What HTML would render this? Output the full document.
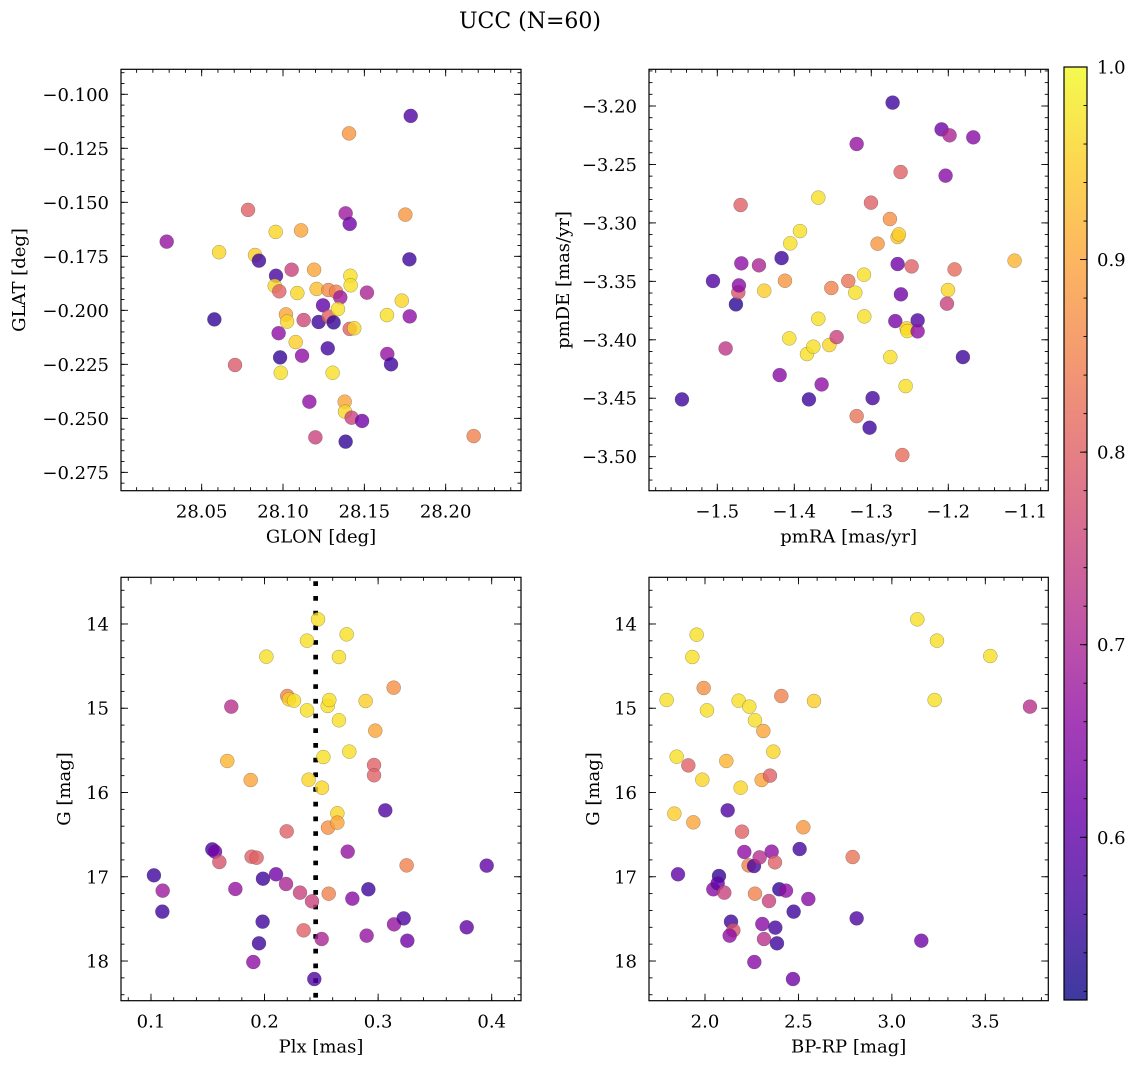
<!DOCTYPE html>
<html><head><meta charset="utf-8">
<style>
html,body{margin:0;padding:0;background:#fff;}
svg{display:block;font-family:"DejaVu Serif","Liberation Serif",serif;}
</style></head>
<body>
<svg id="chart" width="1136" height="1067" viewBox="0 0 1136 1067" xmlns="http://www.w3.org/2000/svg">
<text x="530" y="28" text-anchor="middle" font-size="22">UCC (N=60)</text>
</svg>
<script>
// ---------- data ----------
const glonValues = [28.0285,28.0578,28.0607,28.0705,28.0785,28.0828,28.0852,28.0955,28.0957,28.0949,28.0977,28.0973,28.0982,28.0986,28.1018,28.1025,28.1053,28.1088,28.1078,28.1111,28.1117,28.1127,28.1162,28.1191,28.1199,28.1207,28.1219,28.1246,28.1275,28.1279,28.1281,28.1311,28.1326,28.1352,28.1338,28.1305,28.1379,28.1381,28.1385,28.1385,28.1410,28.1406,28.1414,28.1416,28.1410,28.1438,28.1422,28.1486,28.1516,28.1639,28.1641,28.1664,28.1730,28.1752,28.1777,28.1779,28.1785,28.2172];
const glatValues = [-0.1682,-0.2042,-0.1731,-0.2253,-0.1535,-0.1744,-0.1770,-0.1637,-0.1840,-0.1887,-0.1912,-0.2106,-0.2218,-0.2289,-0.2019,-0.2052,-0.1812,-0.1920,-0.2147,-0.1630,-0.2210,-0.2045,-0.2423,-0.1812,-0.2588,-0.1901,-0.2054,-0.1977,-0.2176,-0.1906,-0.2029,-0.2056,-0.1914,-0.1940,-0.1994,-0.2289,-0.2423,-0.2469,-0.2608,-0.1551,-0.1600,-0.1181,-0.1840,-0.1884,-0.2086,-0.2083,-0.2497,-0.2512,-0.1918,-0.2022,-0.2202,-0.2250,-0.1955,-0.1557,-0.1764,-0.2028,-0.1100,-0.2582];
const probPos = [0.67,0.55,0.96,0.79,0.8,0.95,0.56,0.96,0.57,0.96,0.8,0.66,0.55,0.97,0.9,0.96,0.75,0.96,0.95,0.9,0.66,0.76,0.66,0.9,0.75,0.93,0.56,0.6,0.57,0.86,0.8,0.55,0.85,0.68,0.97,0.97,0.9,0.96,0.55,0.68,0.62,0.88,0.97,0.97,0.8,0.96,0.75,0.62,0.7,0.97,0.67,0.56,0.96,0.88,0.56,0.66,0.58,0.85];

const pmraValues = [-1.5459,-1.5056,-1.4892,-1.4758,-1.4727,-1.4719,-1.4697,-1.4688,-1.4459,-1.4390,-1.4190,-1.4165,-1.4121,-1.4065,-1.4052,-1.3926,-1.3835,-1.3810,-1.3753,-1.3688,-1.3688,-1.3645,-1.3545,-1.3450,-1.3519,-1.3299,-1.3208,-1.3190,-1.3190,-1.3095,-1.3091,-1.3022,-1.3004,-1.2983,-1.2918,-1.2758,-1.2753,-1.2723,-1.2688,-1.2658,-1.2641,-1.2658,-1.2619,-1.2615,-1.2597,-1.2554,-1.2541,-1.2532,-1.2476,-1.2398,-1.2398,-1.2087,-1.2035,-1.1983,-1.2004,-1.2017,-1.1918,-1.1810,-1.1675,-1.1139];
const pmdeValues = [-3.451,-3.3497,-3.4074,-3.3697,-3.3594,-3.3535,-3.2847,-3.3346,-3.3363,-3.3580,-3.4302,-3.3301,-3.3495,-3.3988,-3.3175,-3.3070,-3.4122,-3.4510,-3.4059,-3.2784,-3.3820,-3.4382,-3.4045,-3.3977,-3.3557,-3.3497,-3.3597,-3.4653,-3.2325,-3.3443,-3.3800,-3.4752,-3.2827,-3.4499,-3.3178,-3.2967,-3.4148,-3.1971,-3.3840,-3.3121,-3.3098,-3.3352,-3.2565,-3.3611,-3.4986,-3.4396,-3.3902,-3.3925,-3.3372,-3.3834,-3.3928,-3.2200,-3.2596,-3.2251,-3.3574,-3.3691,-3.3398,-3.4148,-3.2268,-3.3323];
const probPm = [0.56,0.58,0.73,0.54,0.78,0.65,0.8,0.66,0.7,0.95,0.65,0.56,0.88,0.97,0.97,0.97,0.97,0.56,0.97,0.97,0.97,0.66,0.96,0.75,0.85,0.83,0.97,0.83,0.67,0.97,0.97,0.56,0.8,0.57,0.88,0.87,0.97,0.56,0.63,0.94,0.95,0.62,0.8,0.62,0.82,0.97,0.95,0.97,0.8,0.58,0.66,0.62,0.65,0.7,0.96,0.75,0.82,0.56,0.65,0.92];

const plxValues = [0.1026,0.1103,0.1100,0.1540,0.1564,0.1602,0.1672,0.1707,0.1743,0.1878,0.1886,0.1930,0.1901,0.1951,0.1983,0.1986,0.2016,0.2101,0.2189,0.2195,0.2200,0.2215,0.2259,0.2312,0.2344,0.2374,0.2374,0.2388,0.2418,0.2438,0.2471,0.2506,0.2503,0.2518,0.2556,0.2570,0.2559,0.2565,0.2641,0.2641,0.2655,0.2655,0.2723,0.2732,0.2746,0.2773,0.2890,0.2899,0.2914,0.2964,0.2964,0.2975,0.3063,0.3137,0.3140,0.3225,0.3251,0.3257,0.3780,0.3956];
const gmagPlx = [16.983,17.165,17.414,16.675,16.702,16.825,15.626,14.981,17.145,15.852,16.762,16.774,18.012,17.790,17.533,17.023,14.388,16.971,17.086,16.461,14.855,14.894,14.910,17.189,17.636,14.198,15.025,15.848,17.292,18.214,13.945,15.943,17.739,15.579,14.973,14.902,16.417,17.201,16.247,16.358,15.143,14.392,14.123,16.702,15.515,17.260,14.914,17.699,17.149,15.674,15.796,15.266,16.212,14.756,17.565,17.494,16.865,17.759,17.600,16.868];
const probPlx = [0.56,0.68,0.56,0.57,0.62,0.78,0.92,0.72,0.67,0.9,0.8,0.8,0.66,0.56,0.56,0.56,0.97,0.62,0.7,0.8,0.85,0.95,0.97,0.75,0.8,0.97,0.97,0.96,0.75,0.58,0.97,0.96,0.7,0.97,0.97,0.97,0.87,0.85,0.96,0.9,0.97,0.97,0.97,0.67,0.97,0.65,0.95,0.67,0.56,0.8,0.8,0.9,0.58,0.87,0.67,0.58,0.85,0.62,0.6,0.6];
const plxReference = 0.245;

const bprpValues = [1.7949,1.8359,1.8484,1.8555,1.9108,1.9322,1.9376,1.9554,1.9857,1.9929,2.0107,2.0446,2.0749,2.0678,2.1034,2.1141,2.1213,2.1391,2.1516,2.1320,2.1801,2.1908,2.1980,2.2104,2.2372,2.2336,2.2622,2.2675,2.2925,2.2675,2.2640,2.3068,2.3157,2.3032,2.3121,2.3424,2.3478,2.3567,2.3656,2.3745,2.3763,2.3852,2.3977,2.4334,2.4084,2.4708,2.4744,2.5065,2.5261,2.5529,2.5832,2.7901,2.8115,3.1361,3.1575,3.2288,3.2413,3.5266,3.7389];
const gmagCmd = [14.902,16.251,15.575,16.971,15.678,14.392,16.354,14.127,15.848,14.760,15.025,17.149,16.991,17.078,17.189,15.626,16.212,17.533,17.636,17.699,14.910,15.943,16.465,16.706,14.981,16.865,16.873,15.143,16.770,17.201,18.012,17.561,17.739,15.852,15.270,17.288,15.800,16.702,15.515,16.829,17.604,17.790,17.149,17.165,14.855,18.214,17.414,16.671,16.413,17.264,14.914,16.766,17.494,13.945,17.759,14.902,14.198,14.380,14.981];
const probCmd = [0.97,0.95,0.97,0.6,0.8,0.97,0.9,0.97,0.96,0.87,0.97,0.65,0.55,0.6,0.75,0.92,0.58,0.56,0.78,0.66,0.97,0.96,0.8,0.66,0.97,0.85,0.57,0.97,0.72,0.85,0.65,0.65,0.72,0.9,0.9,0.75,0.8,0.66,0.96,0.8,0.57,0.56,0.55,0.66,0.85,0.62,0.56,0.57,0.88,0.65,0.95,0.83,0.58,0.97,0.62,0.97,0.97,0.97,0.72];

// tick labels
const glonTicks = [28.05,28.10,28.15,28.20];
const glatTicks = [-0.100,-0.125,-0.150,-0.175,-0.200,-0.225,-0.250,-0.275];
const pmraTicks = [-1.5,-1.4,-1.3,-1.2,-1.1];
const pmdeTicks = [-3.20,-3.25,-3.30,-3.35,-3.40,-3.45,-3.50];
const plxTicks = [0.1,0.2,0.3,0.4];
const gmagTicks = [14,15,16,17,18];
const bprpTicks = [2.0,2.5,3.0,3.5];
const cbarTicks = [0.6,0.7,0.8,0.9,1.0];
const cbarMin = 0.5155, cbarMax = 1.0;

// ---------- helpers ----------
const NS = 'http://www.w3.org/2000/svg';
const svg = document.getElementById('chart');
const FS = 18;
function mk(tag, attrs, parent){
  const e = document.createElementNS(NS, tag);
  for (const k in attrs) e.setAttribute(k, attrs[k]);
  (parent||svg).appendChild(e);
  return e;
}
const plasmaStops = ['#0d0887','#41049d','#6a00a8','#8f0da4','#b12a90','#cc4778','#e16462','#f2844b','#fca636','#fcce25','#f0f921'];
function hex(h){return [parseInt(h.substr(1,2),16),parseInt(h.substr(3,2),16),parseInt(h.substr(5,2),16)];}
function plasma(t){
  t = Math.max(0, Math.min(1, t));
  const f = t*10, i = Math.min(9, Math.floor(f)), r = f - i;
  const a = hex(plasmaStops[i]), b = hex(plasmaStops[i+1]);
  return 'rgb(' + a.map((v,k)=>Math.round(v+(b[k]-v)*r)).join(',') + ')';
}
function probColor(p){ return plasma((p - cbarMin)/(cbarMax - cbarMin)); }
function fmt(v, d){ const s = v.toFixed(d); return s.replace('-', '\u2212'); }
function linear(d0, d1, r0, r1){ return v => r0 + (v - d0)/(d1 - d0)*(r1 - r0); }

function panel(cfg){
  const g = mk('g', {});
  
  
  const sx = linear(cfg.xd[0], cfg.xd[1], cfg.x0, cfg.x1);
  const sy = linear(cfg.yd[0], cfg.yd[1], cfg.y0, cfg.y1);
  const ticksG = mk('g', {stroke:'#000','stroke-width':0.9}, g);
  
  
  function xTick(v, len){
    const x = sx(v);
    if (x < cfg.x0 - 0.1 || x > cfg.x1 + 0.1) return;
    mk('line', {x1:x, x2:x, y1:cfg.y1, y2:cfg.y1-len}, ticksG);
    mk('line', {x1:x, x2:x, y1:cfg.y0, y2:cfg.y0+len}, ticksG);
  }
  function yTick(v, len){
    const y = sy(v);
    if (y < Math.min(cfg.y0,cfg.y1) - 0.1 || y > Math.max(cfg.y0,cfg.y1) + 0.1) return;
    mk('line', {x1:cfg.x0, x2:cfg.x0+len, y1:y, y2:y}, ticksG);
    mk('line', {x1:cfg.x1, x2:cfg.x1-len, y1:y, y2:y}, ticksG);
  }
  const xlo = Math.min(cfg.xd[0], cfg.xd[1]), xhi = Math.max(cfg.xd[0], cfg.xd[1]);
  for (let k = Math.ceil(xlo/cfg.xminor); k*cfg.xminor <= xhi; k++) xTick(k*cfg.xminor, 3.5);
  const ylo = Math.min(cfg.yd[0], cfg.yd[1]), yhi = Math.max(cfg.yd[0], cfg.yd[1]);
  for (let k = Math.ceil(ylo/cfg.yminor - 1e-6); k*cfg.yminor <= yhi + 1e-9; k++) yTick(k*cfg.yminor, 3.5);
  cfg.xticks.forEach(v => xTick(v, 7));
  cfg.yticks.forEach(v => yTick(v, 7));
  cfg.xticks.forEach(v => {
    const t = mk('text', {x:sx(v), y:cfg.y1+27, 'text-anchor':'middle','font-size':FS}, g);
    
    
    t.textContent = fmt(v, cfg.xdec);
  });
  cfg.yticks.forEach(v => {
    const t = mk('text', {x:cfg.x0-12, y:sy(v)+6.5, 'text-anchor':'end','font-size':FS}, g);
    
    
    t.textContent = fmt(v, cfg.ydec);
  });
  const xt = mk('text', {x:(cfg.x0+cfg.x1)/2, y:cfg.y1+52, 'text-anchor':'middle','font-size':FS}, g);
  
  
  xt.textContent = cfg.xlabel;
  const yt = mk('text', {x:0, y:0, 'text-anchor':'middle','font-size':FS,
    transform:'translate(' + cfg.ylabx + ',' + ((cfg.y0+cfg.y1)/2) + ') rotate(-90)'}, g);
  
  
  yt.textContent = cfg.ylabel;
  if (cfg.vline !== undefined){
    const l = mk('line', {x1:sx(cfg.vline), x2:sx(cfg.vline), y1:cfg.y0+4, y2:cfg.y1, stroke:'#000','stroke-width':4.7,'stroke-dasharray':'4.7 10'}, g);
    
    
  }
  const pts = mk('g', {}, g);
  
  
  const n = Math.min(cfg.xs.length, cfg.ys.length, cfg.cs.length);
  for (let i = 0; i < n; i++){
    const c = mk('circle', {cx:sx(cfg.xs[i]), cy:sy(cfg.ys[i]), r:7, fill:probColor(cfg.cs[i]),
      'fill-opacity':0.8, stroke:'#444','stroke-opacity':0.5,'stroke-width':0.5}, pts);
    
    
  }
  const fr = mk('rect', {x:cfg.x0, y:Math.min(cfg.y0,cfg.y1), width:cfg.x1-cfg.x0, height:Math.abs(cfg.y1-cfg.y0), fill:'none', stroke:'#000','stroke-width':1.2}, g);
  
  
}

panel({name:'glon-glat-panel', x0:121, x1:521, y0:69.3, y1:490.7,
  xd:[28.0004, 28.2463], yd:[-0.08843, -0.28349],
  xticks:glonTicks, yticks:glatTicks, xminor:0.01, yminor:0.005, xdec:2, ydec:3,
  xlabel:'GLON [deg]', ylabel:'GLAT [deg]', ylabx:25,
  xs:glonValues, ys:glatValues, cs:probPos});

panel({name:'pm-panel', x0:649, x1:1048.3, y0:69.3, y1:490.7,
  xd:[-1.5887, -1.0701], yd:[-3.1686, -3.5291],
  xticks:pmraTicks, yticks:pmdeTicks, xminor:0.02, yminor:0.01, xdec:1, ydec:2,
  xlabel:'pmRA [mas/yr]', ylabel:'pmDE [mas/yr]', ylabx:569,
  xs:pmraValues, ys:pmdeValues, cs:probPm});

panel({name:'plx-g-panel', x0:121, x1:521, y0:577.3, y1:1000.7,
  xd:[0.0736, 0.4258], yd:[13.446, 18.471],
  xticks:plxTicks, yticks:gmagTicks, xminor:0.02, yminor:0.2, xdec:1, ydec:0,
  xlabel:'Plx [mas]', ylabel:'G [mag]', ylabx:70, vline:plxReference,
  xs:plxValues, ys:gmagPlx, cs:probPlx});

panel({name:'cmd-panel', x0:649, x1:1048.3, y0:577.3, y1:1000.7,
  xd:[1.7004, 3.837], yd:[13.446, 18.471],
  xticks:bprpTicks, yticks:gmagTicks, xminor:0.1, yminor:0.2, xdec:1, ydec:0,
  xlabel:'BP-RP [mag]', ylabel:'G [mag]', ylabx:599,
  xs:bprpValues, ys:gmagCmd, cs:probCmd});

// ---------- colorbar ----------
(function(){
  const cx0 = 1064, cx1 = 1087, cy0 = 67, cy1 = 1000;
  const defs = mk('defs', {});
  const grad = mk('linearGradient', {id:'cbgrad', x1:0, y1:1, x2:0, y2:0}, defs);
  for (let i = 0; i <= 20; i++){
    mk('stop', {offset:(i/20), 'stop-color':plasma(i/20), 'stop-opacity':0.8}, grad);
  }
  const g = mk('g', {});
  
  
  mk('rect', {x:cx0, y:cy0, width:cx1-cx0, height:cy1-cy0, fill:'url(#cbgrad)'}, g);
  const sy = linear(cbarMin, cbarMax, cy1, cy0);
  for (let k = Math.ceil(cbarMin/0.02); k*0.02 <= cbarMax + 1e-9; k++){
    const y = sy(k*0.02);
    mk('line', {x1:cx1, x2:cx1-3.5, y1:y, y2:y, stroke:'#000','stroke-width':0.9}, g);
  }
  cbarTicks.forEach(v => {
    const y = sy(v);
    mk('line', {x1:cx1, x2:cx1-7, y1:y, y2:y, stroke:'#000','stroke-width':0.9}, g);
    const t = mk('text', {x:cx1+10, y:y+6.5, 'font-size':FS}, g);
    
    
    t.textContent = v.toFixed(1);
  });
  mk('rect', {x:cx0, y:cy0, width:cx1-cx0, height:cy1-cy0, fill:'none', stroke:'#000','stroke-width':1.2}, g);
})();
</script>
</body></html>
